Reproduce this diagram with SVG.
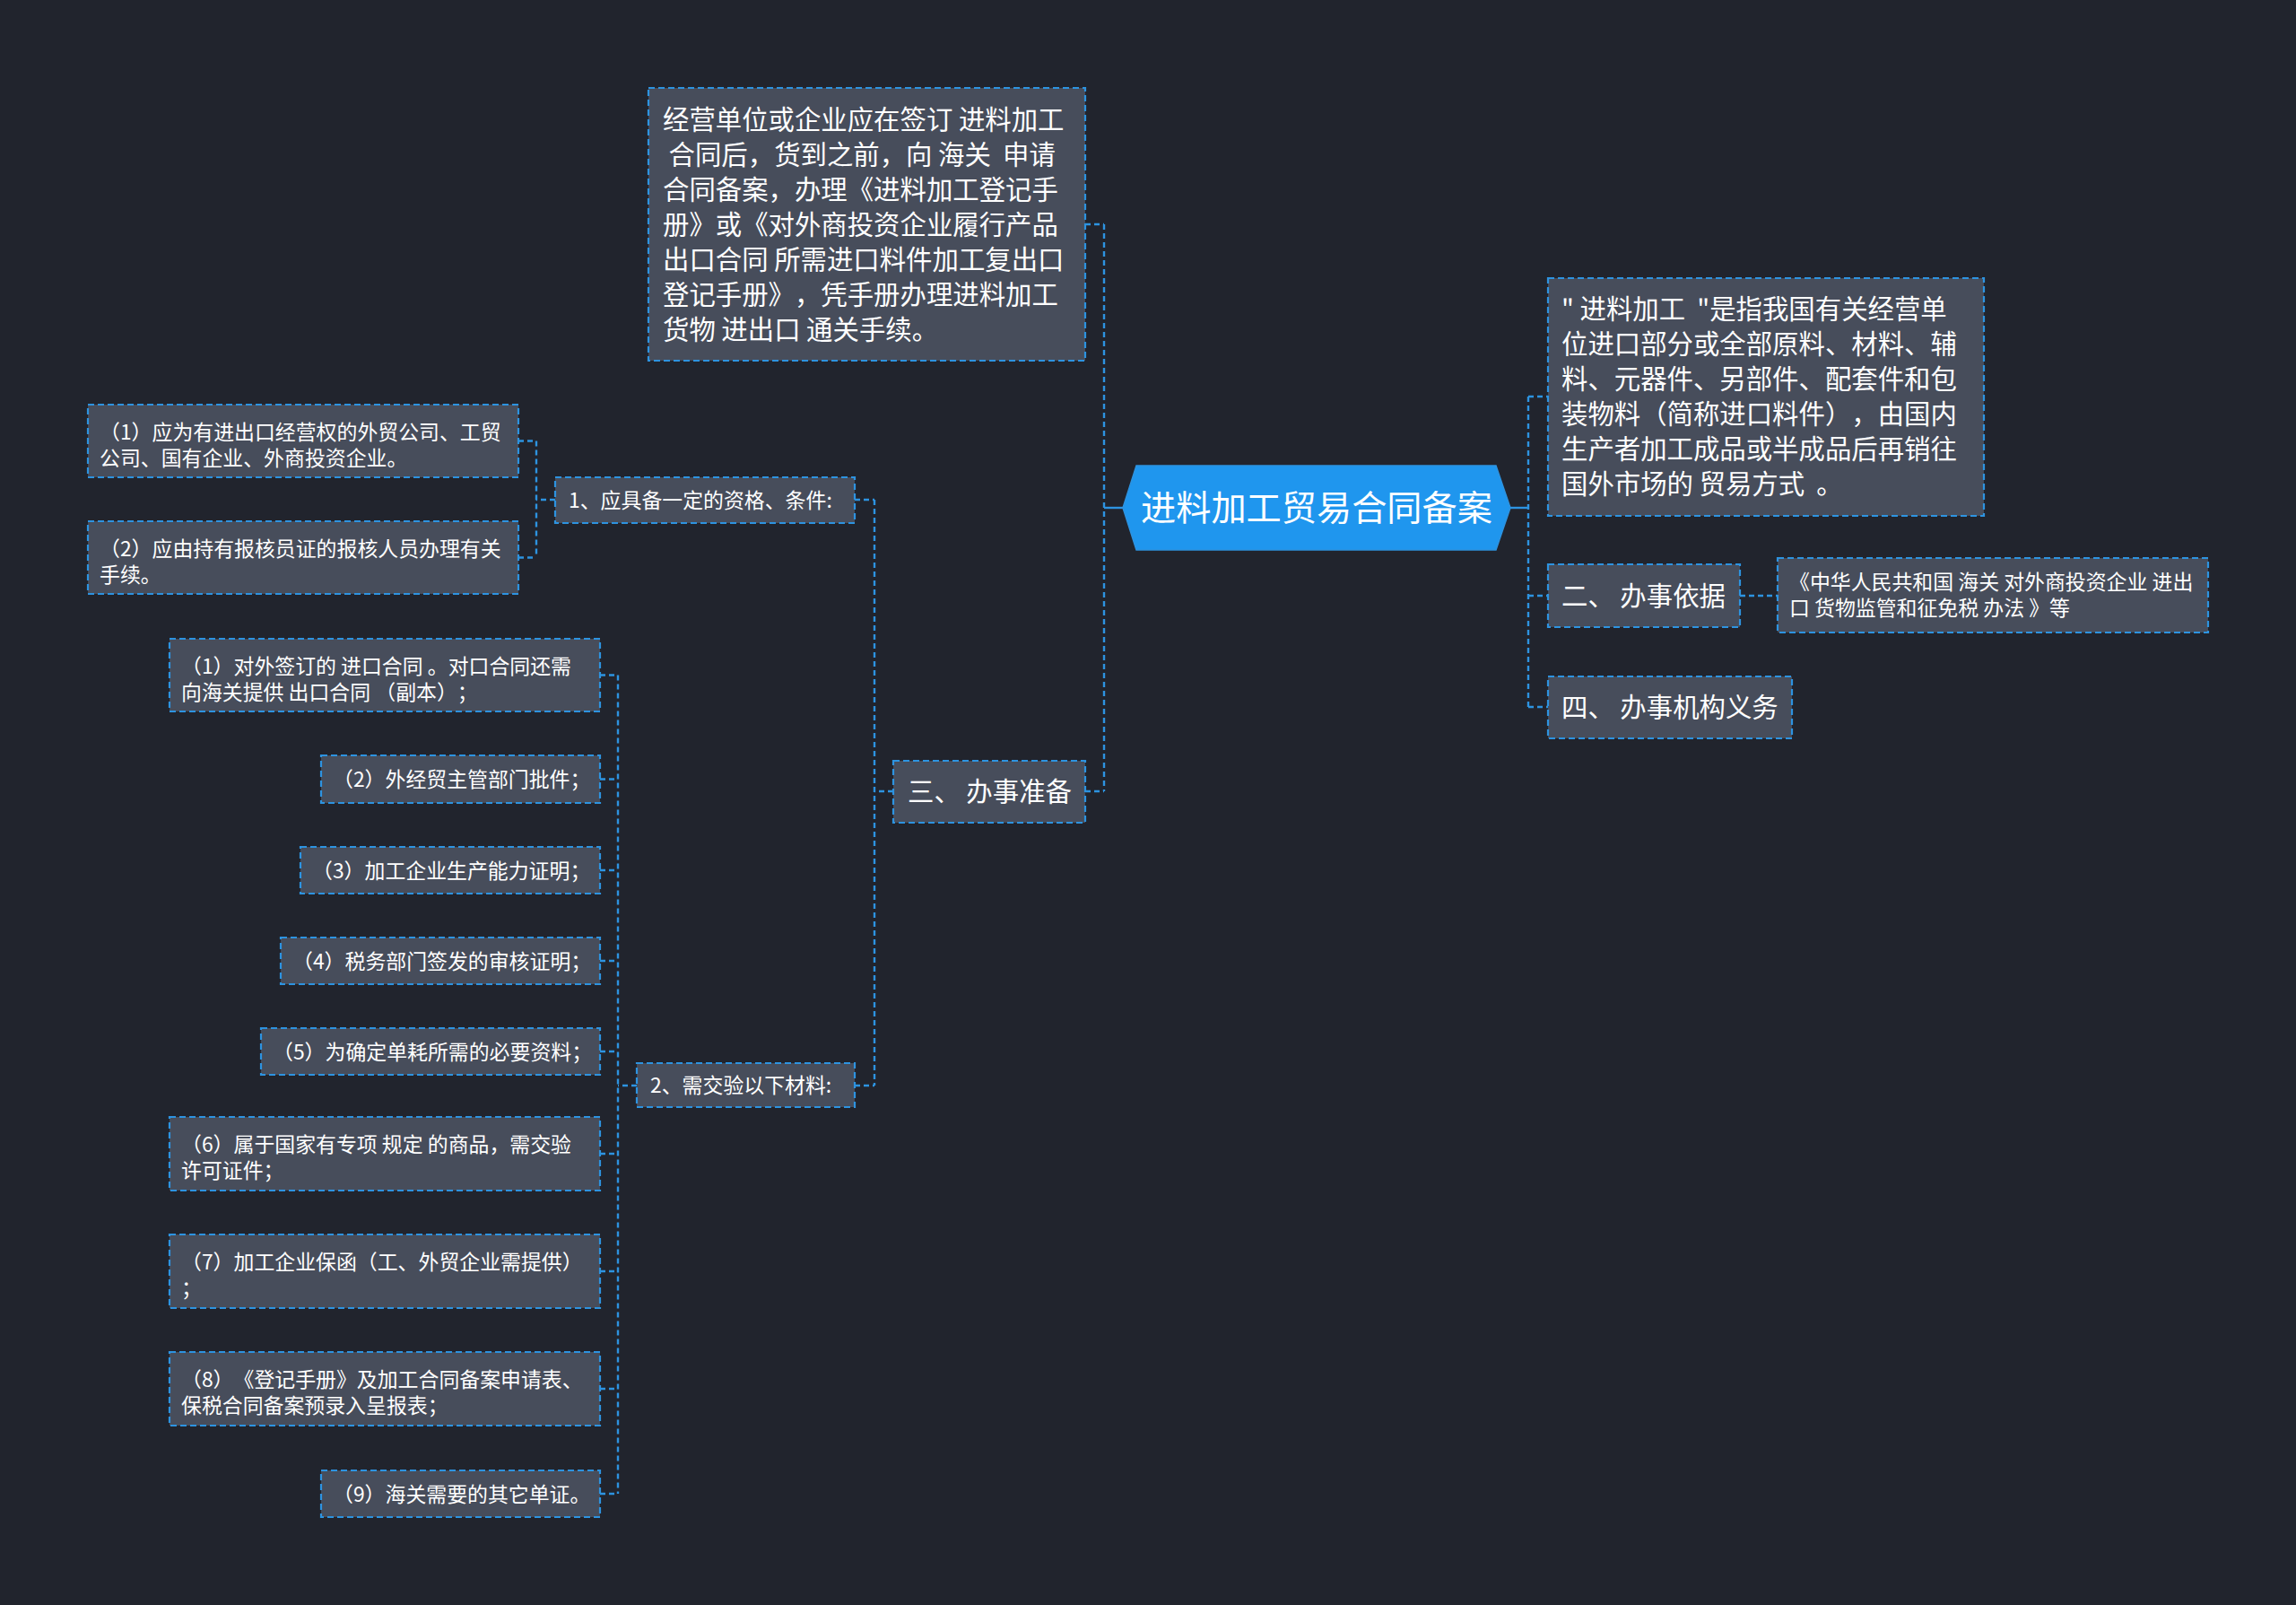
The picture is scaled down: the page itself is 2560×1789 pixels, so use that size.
<svg xmlns="http://www.w3.org/2000/svg" width="2560" height="1789" viewBox="0 0 2560 1789">
<style>
.bg{fill:#21242D}
.box{fill:#474D5B;stroke:#2D93E0;stroke-width:2.2;stroke-dasharray:7 4}
.t{font-family:"Noto Sans CJK SC","Noto Sans",sans-serif;fill:#FFFFFF;text-spacing-trim:space-all}
.f29{font-size:29.4px}
.f23{font-size:22.9px}
.f39{font-size:39.2px}
.l{fill:none;stroke:#2D93E0;stroke-width:2.4;stroke-dasharray:6 4}
.ls{fill:none;stroke:#2D93E0;stroke-width:2.4}
</style>
<rect class="bg" x="0" y="0" width="2560" height="1789"/>
<g id="connectors">
<path class="ls" d="M1252,566 H1231"/>
<path class="l" d="M1231,250 V882"/>
<path class="l" d="M1210,250 H1231"/>
<path class="l" d="M1210,882 H1231"/>
<path class="ls" d="M1684,566 H1704"/>
<path class="l" d="M1704,442 V788"/>
<path class="l" d="M1704,442 H1726"/>
<path class="l" d="M1704,664 H1726"/>
<path class="l" d="M1704,788 H1726"/>
<path class="l" d="M1940,664 H1982"/>
<path class="l" d="M996,882 H975"/>
<path class="l" d="M975,557 V1210"/>
<path class="l" d="M953,557 H975"/>
<path class="l" d="M953,1210 H975"/>
<path class="l" d="M619,557 H598"/>
<path class="l" d="M598,491.5 V621.5"/>
<path class="l" d="M578,491.5 H598"/>
<path class="l" d="M578,621.5 H598"/>
<path class="l" d="M710,1210 H689"/>
<path class="l" d="M689,752.5 V1665"/>
<path class="l" d="M669,752.5 H689"/>
<path class="l" d="M669,868.5 H689"/>
<path class="l" d="M669,970 H689"/>
<path class="l" d="M669,1071 H689"/>
<path class="l" d="M669,1172 H689"/>
<path class="l" d="M669,1286 H689"/>
<path class="l" d="M669,1417 H689"/>
<path class="l" d="M669,1548 H689"/>
<path class="l" d="M669,1665 H689"/>
</g>
<g id="root">
<polygon points="1252,566 1267,519 1668,519 1684,566 1668,613 1267,613" fill="#1F96EE" stroke="#2D93E0" stroke-width="1.5"/>
<text class="t f39" x="1468" y="580" text-anchor="middle">进料加工贸易合同备案</text>
</g>
<g id="desc-left">
<rect class="box" x="723" y="98" width="487" height="304"/>
<text class="t f29" xml:space="preserve"><tspan x="739" y="144">经营单位或企业应在签订 进料加工</tspan><tspan x="739" y="183"> 合同后，货到之前，向 海关  申请</tspan><tspan x="739" y="222">合同备案，办理《进料加工登记手</tspan><tspan x="739" y="261">册》或《对外商投资企业履行产品</tspan><tspan x="739" y="300">出口合同 所需进口料件加工复出口</tspan><tspan x="739" y="339">登记手册》，凭手册办理进料加工</tspan><tspan x="739" y="378">货物 进出口 通关手续。</tspan></text>
</g>
<g id="desc-right">
<rect class="box" x="1726" y="310" width="486" height="265"/>
<text class="t f29" xml:space="preserve"><tspan x="1741" y="355">" 进料加工  "是指我国有关经营单</tspan><tspan x="1741" y="394">位进口部分或全部原料、材料、辅</tspan><tspan x="1741" y="433">料、元器件、另部件、配套件和包</tspan><tspan x="1741" y="472">装物料（简称进口料件），由国内</tspan><tspan x="1741" y="511">生产者加工成品或半成品后再销往</tspan><tspan x="1741" y="550">国外市场的 贸易方式  。</tspan></text>
</g>
<g id="basis">
<rect class="box" x="1726" y="629" width="214" height="70"/>
<text class="t f29" x="1741" y="675" xml:space="preserve">二、 办事依据</text>
</g>
<g id="basis-law">
<rect class="box" x="1982" y="622" width="480" height="83"/>
<text class="t f23" xml:space="preserve"><tspan x="1995" y="657">《中华人民共和国 海关 对外商投资企业 进出</tspan><tspan x="1995" y="686">口 货物监管和征免税 办法 》等</tspan></text>
</g>
<g id="duty">
<rect class="box" x="1726" y="754" width="272" height="69"/>
<text class="t f29" x="1741" y="799" xml:space="preserve">四、 办事机构义务</text>
</g>
<g id="prep">
<rect class="box" x="996" y="848" width="214" height="69"/>
<text class="t f29" x="1012" y="893" xml:space="preserve">三、 办事准备</text>
</g>
<g id="qual">
<rect class="box" x="619" y="532" width="334" height="51"/>
<text class="t f23" x="634" y="566">1、应具备一定的资格、条件:</text>
</g>
<g id="qual-1">
<rect class="box" x="98" y="451" width="480" height="81"/>
<text class="t f23"><tspan x="111" y="489.5">（1）应为有进出口经营权的外贸公司、工贸</tspan><tspan x="111" y="518.5">公司、国有企业、外商投资企业。</tspan></text>
</g>
<g id="qual-2">
<rect class="box" x="98" y="581" width="480" height="81"/>
<text class="t f23"><tspan x="111" y="619.5">（2）应由持有报核员证的报核人员办理有关</tspan><tspan x="111" y="648.5">手续。</tspan></text>
</g>
<g id="mat">
<rect class="box" x="710" y="1185" width="243" height="49"/>
<text class="t f23" x="725" y="1218">2、需交验以下材料:</text>
</g>
<g id="mat-1">
<rect class="box" x="189" y="712" width="480" height="81"/>
<text class="t f23" xml:space="preserve"><tspan x="202" y="750.5">（1）对外签订的 进口合同 。对口合同还需</tspan><tspan x="202" y="779.5">向海关提供 出口合同 （副本）；</tspan></text>
</g>
<g id="mat-2">
<rect class="box" x="358" y="842" width="311" height="53"/>
<text class="t f23" x="371" y="877">（2）外经贸主管部门批件；</text>
</g>
<g id="mat-3">
<rect class="box" x="335" y="944" width="334" height="52"/>
<text class="t f23" x="348" y="978.5">（3）加工企业生产能力证明；</text>
</g>
<g id="mat-4">
<rect class="box" x="313" y="1045" width="356" height="52"/>
<text class="t f23" x="326" y="1079.5">（4）税务部门签发的审核证明；</text>
</g>
<g id="mat-5">
<rect class="box" x="291" y="1146" width="378" height="52"/>
<text class="t f23" x="304" y="1180.5">（5）为确定单耗所需的必要资料；</text>
</g>
<g id="mat-6">
<rect class="box" x="189" y="1245" width="480" height="82"/>
<text class="t f23" xml:space="preserve"><tspan x="202" y="1284">（6）属于国家有专项 规定 的商品，需交验</tspan><tspan x="202" y="1313">许可证件；</tspan></text>
</g>
<g id="mat-7">
<rect class="box" x="189" y="1376" width="480" height="82"/>
<text class="t f23"><tspan x="202" y="1415">（7）加工企业保函（工、外贸企业需提供）</tspan><tspan x="202" y="1444">；</tspan></text>
</g>
<g id="mat-8">
<rect class="box" x="189" y="1507" width="480" height="82"/>
<text class="t f23"><tspan x="202" y="1546">（8）《登记手册》及加工合同备案申请表、</tspan><tspan x="202" y="1575">保税合同备案预录入呈报表；</tspan></text>
</g>
<g id="mat-9">
<rect class="box" x="358" y="1639" width="311" height="52"/>
<text class="t f23" x="371" y="1673.5">（9）海关需要的其它单证。</text>
</g>
</svg>
